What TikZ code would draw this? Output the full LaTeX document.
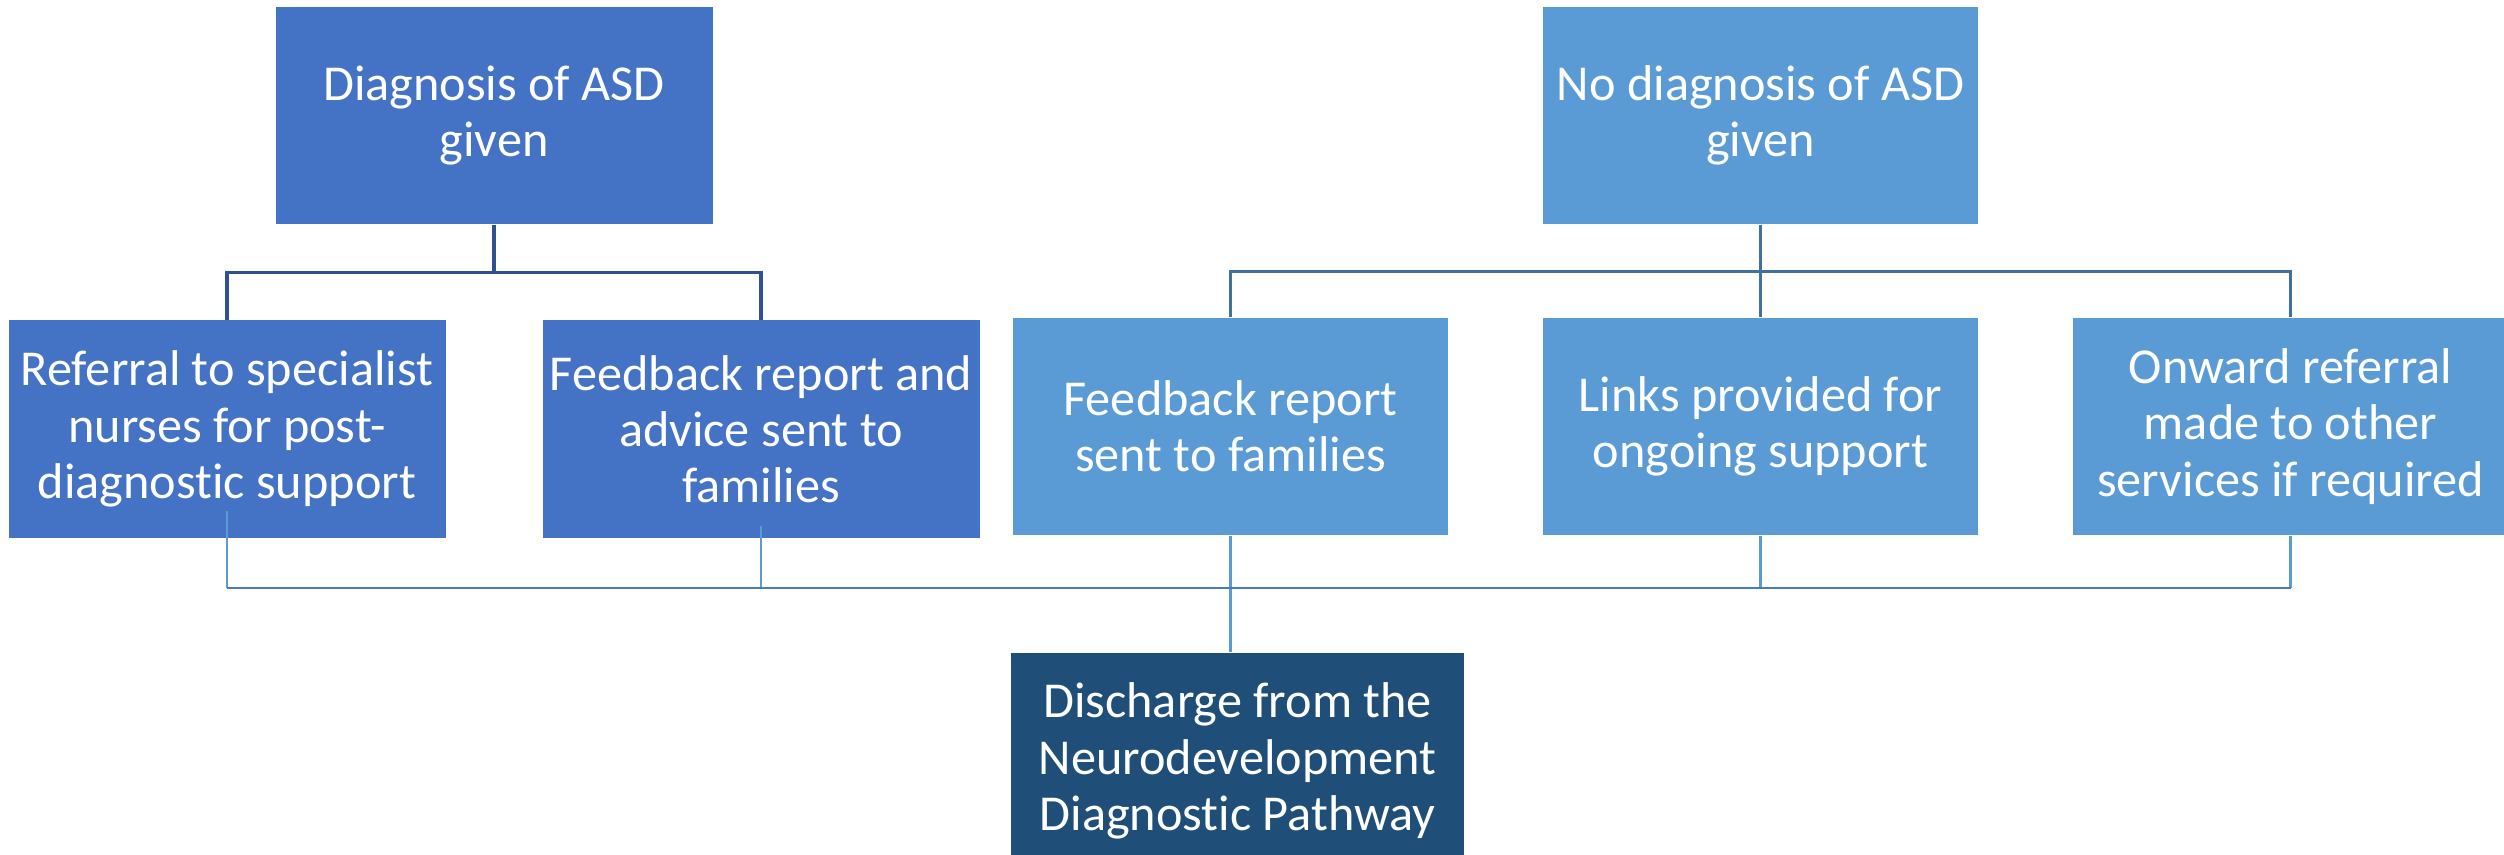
\documentclass[tikz,border=0pt]{standalone}
\usepackage{fontspec}
\setmainfont{Carlito}[Ligatures=NoCommon]
\definecolor{asdblue}{HTML}{4472C4}
\definecolor{noasdblue}{HTML}{5B9BD5}
\definecolor{endblue}{HTML}{1F4E79}
\definecolor{asdline}{HTML}{2F528F}
\definecolor{noasdline}{HTML}{41719C}
\tikzset{
	box/.style={rectangle, text=white, inner sep=0pt, align=center,
		minimum width=4.37cm, minimum height=2.17cm,
		font=\fontsize{14.3}{16}\selectfont},
}
\begin{document}
\begin{tikzpicture}
	\useasboundingbox (0,0) rectangle (25.04,-8.55);
	% outcome with diagnosis
	\begin{scope}[every node/.style={box, fill=asdblue}]
		\node (asd) at (4.94,-1.155) {Diagnosis of ASD\\given};
		\node (nurses) at (2.27,-4.29) {Referral to specialist\\nurses for post-\\diagnostic support};
		\node (advice) at (7.61,-4.29) {Feedback report and\\advice sent to\\families};
	\end{scope}
	% outcome without diagnosis
	\begin{scope}[every node/.style={box, fill=noasdblue, minimum width=4.35cm}]
		\node (noasd) at (17.605,-1.155) {No diagnosis of ASD\\given};
		\node (report) at (12.305,-4.265) {Feedback report\\sent to families};
		\node (links) at (17.605,-4.265) {Links provided for\\ongoing support};
		\node (onward) at (22.905,-4.265) {Onward referral\\made to other\\services if required};
	\end{scope}
	\node (discharge)[box, fill=endblue, minimum width=4.53cm] at (12.375,-7.61) {Discharge from the\\Neurodevelopment\\Diagnostic Pathway};

	% branches from the two outcomes
	\begin{scope}[line width=1pt]
		\draw [asdline] (asd.south) -- ++(0,-0.48) -| (nurses.north);
		\draw [asdline] (asd.south) -- ++(0,-0.48) -| (advice.north);
		\draw [noasdline] (noasd.south) -- ++(0,-0.47) -| (report.north);
		\draw [noasdline] (noasd.south) -- (links.north);
		\draw [noasdline] (noasd.south) -- ++(0,-0.47) -| (onward.north);
	\end{scope}

	% everything joins up to the discharge
	\coordinate (bus) at (0,-5.88);
	\begin{scope}[noasdblue, line width=0.7pt]
		\draw ([yshift=0.27cm]nurses.south) -- (nurses |- bus);
		\draw ([yshift=0.12cm]advice.south) -- (advice |- bus);
		\draw (links.south) -- (links |- bus);
		\draw (onward.south) -- (onward |- bus);
		\draw (report.south) -- (report.south |- discharge.north);
		\draw [asdblue!80!noasdblue, line width=0.8pt] (nurses |- bus) -- (onward |- bus);
	\end{scope}
\end{tikzpicture}
\end{document}
